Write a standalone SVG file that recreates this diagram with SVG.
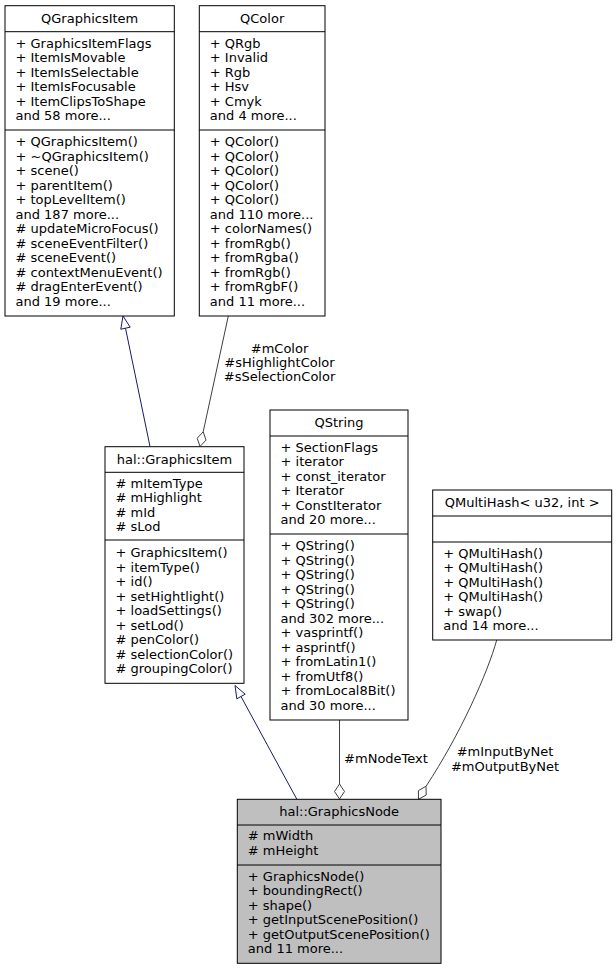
<svg xmlns="http://www.w3.org/2000/svg" width="616" height="969" viewBox="0 0 616 969">
<style>
text{font-family:"DejaVu Sans","Liberation Sans",sans-serif;font-size:13px;fill:#000}
.t{text-anchor:middle}
.m{text-anchor:middle}
.box{fill:#fff;stroke:#000;stroke-width:1}
.cur{fill:#bfbfbf;stroke:#000;stroke-width:1}
.sep{stroke:#000;stroke-width:1}
.inh{fill:none;stroke:#191970;stroke-width:1}
.inhh{fill:#fff;stroke:#191970;stroke-width:1}
.agg{fill:none;stroke:#404040;stroke-width:1}
.aggh{fill:#fff;stroke:#404040;stroke-width:1}
</style>
<g id="connectors">
<path class="inh" d="M150,446.5 L125.5,328.2"/>
<polygon class="inhh" points="123,316 130.2,327.2 120.8,329.2"/>
<path class="agg" d="M228.3,316 L203.2,431.8"/>
<polygon class="aggh" points="200,446.5 206,440.1 203.2,431.8 197.2,438.2"/>
<text class="m" x="279.5" y="352.8">#mColor</text>
<text class="m" x="279.5" y="367.3">#sHighlightColor</text>
<text class="m" x="279.5" y="381.3">#sSelectionColor</text>
<path class="inh" d="M296.7,799 L241,696.5"/>
<polygon class="inhh" points="235,685.5 245.2,694.2 236.8,698.8"/>
<path class="agg" d="M339.5,720 L339.5,784"/>
<polygon class="aggh" points="339.5,799 344.5,791.5 339.5,784 334.5,791.5"/>
<text class="m" x="386" y="762.8">#mNodeText</text>
<path class="agg" d="M496.7,640 C488,672 460,735 426,786.3"/>
<polygon class="aggh" points="418.5,799.3 426.2,795 426,786.3 418.4,790.6"/>
<text class="m" x="505" y="756">#mInputByNet</text>
<text class="m" x="505" y="770.5">#mOutputByNet</text>
</g>
<g id="QGraphicsItem">
<rect class="box" x="5" y="5.7" width="169.3" height="310.3"/>
<line class="sep" x1="5" y1="31.7" x2="174.3" y2="31.7"/>
<line class="sep" x1="5" y1="130" x2="174.3" y2="130"/>
<text class="t" x="89.65" y="22.7">QGraphicsItem</text>
<text x="15.5" y="47.6">+ GraphicsItemFlags</text>
<text x="15.5" y="62.1">+ ItemIsMovable</text>
<text x="15.5" y="76.6">+ ItemIsSelectable</text>
<text x="15.5" y="91.1">+ ItemIsFocusable</text>
<text x="15.5" y="105.6">+ ItemClipsToShape</text>
<text x="15.5" y="120.1">and 58 more...</text>
<text x="15.5" y="146.25">+ QGraphicsItem()</text>
<text x="15.5" y="160.75">+ ~QGraphicsItem()</text>
<text x="15.5" y="175.25">+ scene()</text>
<text x="15.5" y="189.75">+ parentItem()</text>
<text x="15.5" y="204.25">+ topLevelItem()</text>
<text x="15.5" y="218.75">and 187 more...</text>
<text x="15.5" y="233.25"># updateMicroFocus()</text>
<text x="15.5" y="247.75"># sceneEventFilter()</text>
<text x="15.5" y="262.25"># sceneEvent()</text>
<text x="15.5" y="276.75"># contextMenuEvent()</text>
<text x="15.5" y="291.25"># dragEnterEvent()</text>
<text x="15.5" y="305.75">and 19 more...</text>
</g>
<g id="QColor">
<rect class="box" x="199.3" y="5.7" width="125.7" height="310.3"/>
<line class="sep" x1="199.3" y1="31.7" x2="325" y2="31.7"/>
<line class="sep" x1="199.3" y1="130" x2="325" y2="130"/>
<text class="t" x="262.15" y="22.7">QColor</text>
<text x="209.8" y="47.6">+ QRgb</text>
<text x="209.8" y="62.1">+ Invalid</text>
<text x="209.8" y="76.6">+ Rgb</text>
<text x="209.8" y="91.1">+ Hsv</text>
<text x="209.8" y="105.6">+ Cmyk</text>
<text x="209.8" y="120.1">and 4 more...</text>
<text x="209.8" y="146.25">+ QColor()</text>
<text x="209.8" y="160.75">+ QColor()</text>
<text x="209.8" y="175.25">+ QColor()</text>
<text x="209.8" y="189.75">+ QColor()</text>
<text x="209.8" y="204.25">+ QColor()</text>
<text x="209.8" y="218.75">and 110 more...</text>
<text x="209.8" y="233.25">+ colorNames()</text>
<text x="209.8" y="247.75">+ fromRgb()</text>
<text x="209.8" y="262.25">+ fromRgba()</text>
<text x="209.8" y="276.75">+ fromRgb()</text>
<text x="209.8" y="291.25">+ fromRgbF()</text>
<text x="209.8" y="305.75">and 11 more...</text>
</g>
<g id="halGraphicsItem">
<rect class="box" x="105" y="446.7" width="139" height="236.6"/>
<line class="sep" x1="105" y1="472.3" x2="244" y2="472.3"/>
<line class="sep" x1="105" y1="540" x2="244" y2="540"/>
<text class="t" x="174.5" y="463.5">hal::GraphicsItem</text>
<text x="115.5" y="487.6"># mItemType</text>
<text x="115.5" y="502.1"># mHighlight</text>
<text x="115.5" y="516.6"># mId</text>
<text x="115.5" y="531.1"># sLod</text>
<text x="115.5" y="557.2">+ GraphicsItem()</text>
<text x="115.5" y="571.7">+ itemType()</text>
<text x="115.5" y="586.2">+ id()</text>
<text x="115.5" y="600.7">+ setHightlight()</text>
<text x="115.5" y="615.2">+ loadSettings()</text>
<text x="115.5" y="629.7">+ setLod()</text>
<text x="115.5" y="644.2"># penColor()</text>
<text x="115.5" y="658.7"># selectionColor()</text>
<text x="115.5" y="673.2"># groupingColor()</text>
</g>
<g id="QString">
<rect class="box" x="270" y="410" width="138" height="310"/>
<line class="sep" x1="270" y1="436" x2="408" y2="436"/>
<line class="sep" x1="270" y1="534" x2="408" y2="534"/>
<text class="t" x="339" y="427">QString</text>
<text x="280.5" y="451.5">+ SectionFlags</text>
<text x="280.5" y="466">+ iterator</text>
<text x="280.5" y="480.5">+ const_iterator</text>
<text x="280.5" y="495">+ Iterator</text>
<text x="280.5" y="509.5">+ ConstIterator</text>
<text x="280.5" y="524">and 20 more...</text>
<text x="280.5" y="550">+ QString()</text>
<text x="280.5" y="564.5">+ QString()</text>
<text x="280.5" y="579">+ QString()</text>
<text x="280.5" y="593.5">+ QString()</text>
<text x="280.5" y="608">+ QString()</text>
<text x="280.5" y="622.5">and 302 more...</text>
<text x="280.5" y="637">+ vasprintf()</text>
<text x="280.5" y="651.5">+ asprintf()</text>
<text x="280.5" y="666">+ fromLatin1()</text>
<text x="280.5" y="680.5">+ fromUtf8()</text>
<text x="280.5" y="695">+ fromLocal8Bit()</text>
<text x="280.5" y="709.5">and 30 more...</text>
</g>
<g id="QMultiHash">
<rect class="box" x="432.7" y="490" width="179" height="150"/>
<line class="sep" x1="432.7" y1="516" x2="611.7" y2="516"/>
<line class="sep" x1="432.7" y1="542" x2="611.7" y2="542"/>
<text class="t" x="522.2" y="507">QMultiHash&lt; u32, int &gt;</text>
<text x="443.2" y="557.9">+ QMultiHash()</text>
<text x="443.2" y="572.4">+ QMultiHash()</text>
<text x="443.2" y="586.9">+ QMultiHash()</text>
<text x="443.2" y="601.4">+ QMultiHash()</text>
<text x="443.2" y="615.9">+ swap()</text>
<text x="443.2" y="630.4">and 14 more...</text>
</g>
<g id="halGraphicsNode">
<rect class="cur" x="237.3" y="799.3" width="203.7" height="164"/>
<line class="sep" x1="237.3" y1="825" x2="441" y2="825"/>
<line class="sep" x1="237.3" y1="865" x2="441" y2="865"/>
<text class="t" x="339.15" y="816">hal::GraphicsNode</text>
<text x="247.8" y="840"># mWidth</text>
<text x="247.8" y="854.5"># mHeight</text>
<text x="247.8" y="880.9">+ GraphicsNode()</text>
<text x="247.8" y="895.4">+ boundingRect()</text>
<text x="247.8" y="909.9">+ shape()</text>
<text x="247.8" y="924.4">+ getInputScenePosition()</text>
<text x="247.8" y="938.9">+ getOutputScenePosition()</text>
<text x="247.8" y="953.4">and 11 more...</text>
</g>
</svg>
